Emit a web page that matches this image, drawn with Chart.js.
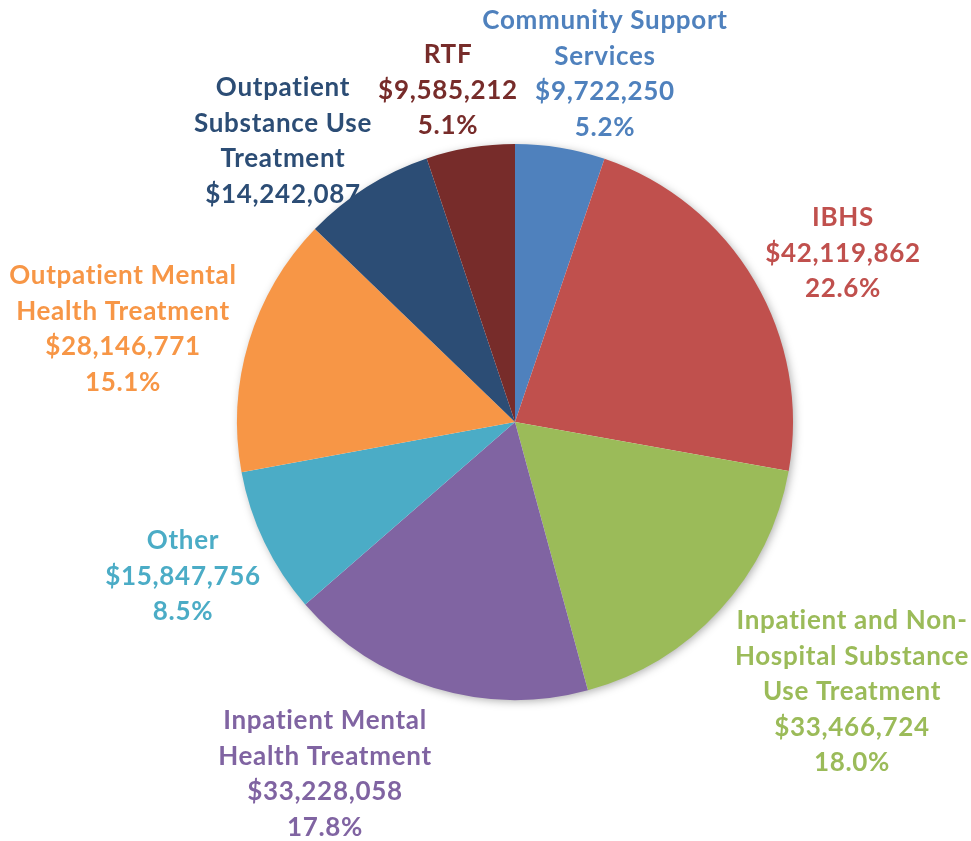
<!DOCTYPE html>
<html>
<head>
<meta charset="utf-8">
<script src="https://cdn.jsdelivr.net/npm/chart.js@4.4.0/dist/chart.umd.min.js"></script>
<style>
  html, body { margin: 0; padding: 0; background: #fff; }
  #wrap { width: 971px; height: 841px; position: relative; }
</style>
</head>
<body>
<div id="wrap"><canvas id="pieChart"></canvas></div>
<script>
// data, clockwise from 12 o'clock
const categories = [
    ['Community Support', 'Services'],
    ['IBHS'],
    ['Inpatient and Non-', 'Hospital Substance', 'Use Treatment'],
    ['Inpatient Mental', 'Health Treatment'],
    ['Other'],
    ['Outpatient Mental', 'Health Treatment'],
    ['Outpatient', 'Substance Use', 'Treatment'],
    ['RTF']
];
const amounts = [9722250, 42119862, 33466724, 33228058, 15847756, 28146771, 14242087, 9585212];
const colors = ['#4F81BD', '#C0504D', '#9BBB59', '#8064A2', '#4BACC6', '#F79646', '#2C4D75', '#772C2A'];

// label layout (centre x / first line y, px) - as placed in the original
const labelPos = [
    [605, 21], [843, 218], [852, 621], [325, 721],
    [183, 541], [123, 276], [283, 88], [448, 55]
];
const showPct = [true, true, true, true, true, true, false, true];
const LINE_H = 35.5;

const total = amounts.reduce((a, b) => a + b, 0);
const money = v => '$' + v.toLocaleString('en-US');

// labels sit under the pie (the original clips one of them)
const labelPlugin = {
    id: 'pieLabels',
    beforeDatasetsDraw(chart) {
        const ctx = chart.ctx;
        const arc = chart.getDatasetMeta(0).data[0];
        ctx.save();
        ctx.font = 'bold 26px Lato';
        ctx.letterSpacing = '0.7px'; // also stops the "ti" ligature
        ctx.textAlign = 'center';
        ctx.textBaseline = 'middle';
        amounts.forEach((v, i) => {
            const lines = categories[i].slice();
            lines.push(money(v));
            if (showPct[i]) lines.push((v / total * 100).toFixed(1) + '%');
            ctx.fillStyle = colors[i];
            lines.forEach((t, j) => ctx.fillText(t, labelPos[i][0], labelPos[i][1] + j * LINE_H));
        });

        // soft shadow under the whole pie
        ctx.shadowColor = 'rgba(0,0,0,0.35)';
        ctx.shadowBlur = 10;
        ctx.shadowOffsetX = 2;
        ctx.shadowOffsetY = 2;
        ctx.fillStyle = '#fff';
        ctx.beginPath();
        ctx.arc(arc.x, arc.y, arc.outerRadius - 1, 0, Math.PI * 2);
        ctx.fill();
        ctx.restore();
    }
};

const ctx = document.getElementById('pieChart').getContext('2d');
new Chart(ctx, {
    type: 'pie',
    data: {
        labels: categories.map(c => c.join(' ')),
        datasets: [{
            data: amounts,
            backgroundColor: colors,
            borderWidth: 0
        }]
    },
    options: {
        responsive: true,
        maintainAspectRatio: false,
        animation: false,
        layout: { padding: { left: 237, right: 178, top: 144, bottom: 141 } },
        plugins: {
            legend: { display: false },
            tooltip: { enabled: false }
        }
    },
    plugins: [labelPlugin]
});
</script>
</body>
</html>
